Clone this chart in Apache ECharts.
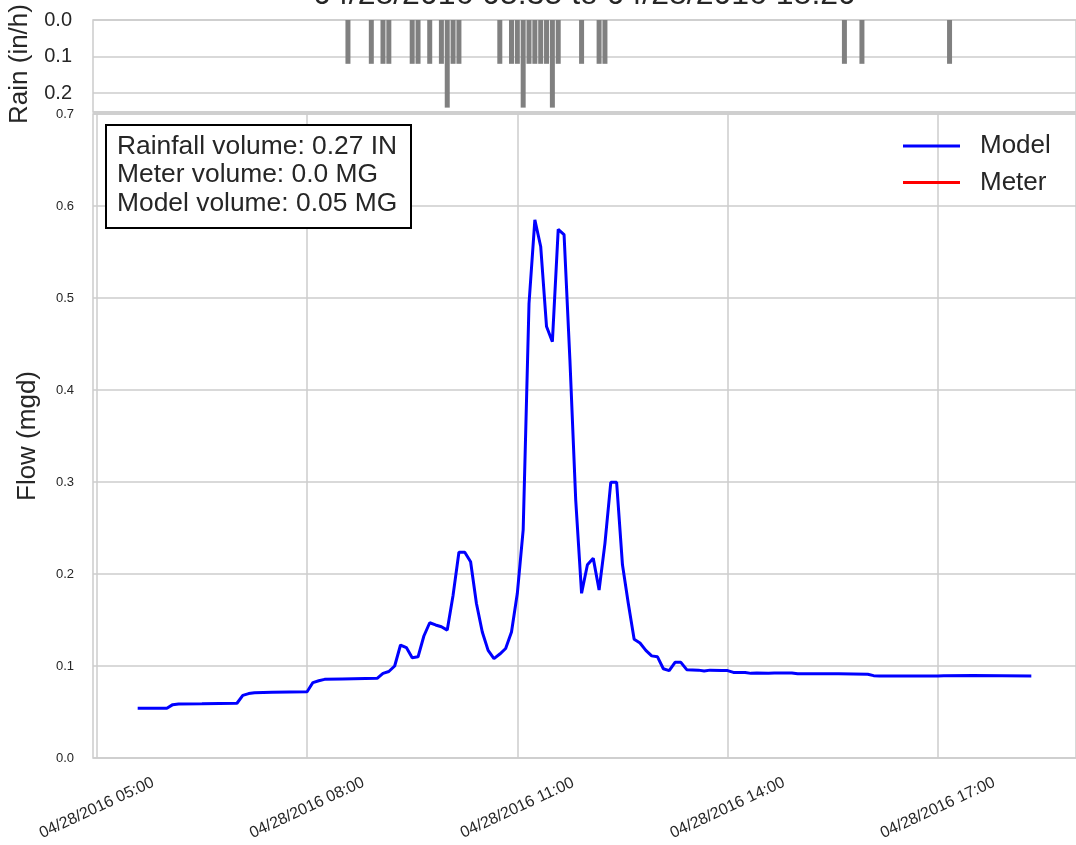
<!DOCTYPE html>
<html><head><meta charset="utf-8">
<script src="https://cdn.jsdelivr.net/npm/echarts@6/dist/echarts.min.js"></script>
<style>html,body{margin:0;padding:0;background:#fff}#c{width:1076px;height:845px}</style>
</head><body><div id="c"></div>
<script>
const titleText = '04/28/2016 05:35 to 04/28/2016 18:20';
const datePrefix = '04/28/2016';
const xTickTimes = ['05:00', '08:00', '11:00', '14:00', '17:00'];
const boxLines = ['Rainfall volume: 0.27 IN', 'Meter volume: 0.0 MG', 'Model volume: 0.05 MG'];

// Model flow (mgd), read at the visible vertices of the line
const flowTimes = [
  '05:35','06:00','06:05','06:10','06:30','07:00','07:05','07:10','07:15','07:30',
  '08:00','08:05','08:10','08:15','08:30','09:00','09:05','09:10','09:15','09:20',
  '09:25','09:30','09:35','09:40','09:45','09:50','09:55','10:00','10:05','10:10',
  '10:15','10:20','10:25','10:30','10:35','10:40','10:45','10:50','10:55','11:00',
  '11:05','11:10','11:15','11:20','11:25','11:30','11:35','11:40','11:45','11:50',
  '11:55','12:00','12:05','12:10','12:15','12:20','12:25','12:30','12:35','12:40',
  '12:45','12:50','12:55','13:00','13:05','13:10','13:15','13:20','13:25','13:35',
  '13:40','13:45','13:55','14:00','14:05','14:15','14:20','14:25','14:35','14:40',
  '14:55','15:00','15:35','16:00','16:05','16:10','17:00','17:05','17:30','18:20'
];
const modelFlow = [
  0.054,0.054,0.058,0.0588,0.059,0.0595,0.068,0.070,0.071,0.0715,
  0.072,0.082,0.084,0.0855,0.086,0.0866,0.092,0.094,0.100,0.1228,
  0.120,0.109,0.110,0.1326,0.147,0.1446,0.1427,0.139,0.177,0.2236,
  0.2236,0.2134,0.168,0.137,0.117,0.108,0.113,0.119,0.137,0.179,
  0.248,0.494,0.585,0.556,0.469,0.4525,0.5746,0.569,0.433,0.280,
  0.179,0.210,0.217,0.1826,0.2333,0.2996,0.2996,0.210,0.168,0.129,
  0.125,0.117,0.111,0.110,0.097,0.095,0.104,0.104,0.096,0.0955,
  0.0945,0.0955,0.0952,0.095,0.093,0.093,0.092,0.0925,0.092,0.0925,
  0.0925,0.0915,0.0915,0.091,0.0895,0.089,0.089,0.0895,0.0897,0.089
];
const meterTimes = [];
const meterFlow = [];

// Rain intensity (in/h)
const rainTimes = [
  '08:35','08:55','09:05','09:10','09:30','09:35','09:45','09:55','10:00','10:05',
  '10:10','10:45','10:55','11:00','11:05','11:10','11:15','11:20','11:25','11:30',
  '11:35','11:55','12:10','12:15','15:40','15:55','17:10'
];
const rainRates = [
  0.12,0.12,0.12,0.12,0.12,0.12,0.12,0.12,0.24,0.12,
  0.12,0.12,0.12,0.12,0.24,0.12,0.12,0.12,0.12,0.24,
  0.12,0.12,0.12,0.12,0.12,0.12,0.12
];

function toMin(t) { const p = t.split(':').map(Number); return p[0] * 60 + p[1]; }
function fmtMin(v) {
  const h = Math.floor(v / 60), m = Math.round(v % 60);
  return datePrefix + ' ' + String(h).padStart(2, '0') + ':' + String(m).padStart(2, '0');
}
const t0 = toMin(flowTimes[0]), t1 = toMin(flowTimes[flowTimes.length - 1]);
const xMin = t0 - 0.05 * (t1 - t0), xMax = t1 + 0.05 * (t1 - t0);
const xTicks = xTickTimes.map(toMin);

const FONT = 'Liberation Sans, Arial, sans-serif';
const TXT = '#262626';
const GRIDC = '#cccccc';

const chart = echarts.init(document.getElementById('c'), null, { renderer: 'canvas' });
chart.setOption({
  animation: false,
  backgroundColor: '#ffffff',
  textStyle: { fontFamily: FONT },
  grid: [
    { left: 93, right: 0, top: 114, bottom: 87, show: true, borderColor: GRIDC, borderWidth: 1.5, backgroundColor: 'transparent' },
    { left: 93, right: 0, top: 20, height: 92, show: true, borderColor: GRIDC, borderWidth: 1.5, backgroundColor: 'transparent' }
  ],
  xAxis: [
    {
      type: 'value', gridIndex: 0, min: xMin, max: xMax,
      axisLine: { show: false },
      axisTick: { show: false, customValues: xTicks },
      axisLabel: {
        customValues: xTicks, formatter: fmtMin, rotate: 25, align: 'center', verticalAlign: 'middle',
        margin: 50, fontSize: 16, color: TXT, fontFamily: FONT
      },
      splitLine: { show: true, lineStyle: { color: GRIDC, width: 1.5 } }
    },
    {
      type: 'value', gridIndex: 1, min: xMin, max: xMax,
      axisLine: { show: false }, axisTick: { show: false }, axisLabel: { show: false },
      splitLine: { show: false }
    }
  ],
  yAxis: [
    {
      type: 'value', gridIndex: 0, min: 0, max: 0.7, interval: 0.1,
      axisLine: { show: false }, axisTick: { show: false },
      axisLabel: { formatter: v => v.toFixed(1), fontSize: 13, color: TXT, margin: 19, fontFamily: FONT },
      splitLine: { show: true, lineStyle: { color: GRIDC, width: 1.5 } }
    },
    {
      type: 'value', gridIndex: 1, min: 0, max: 0.252, interval: 0.1, inverse: true,
      axisLine: { show: false }, axisTick: { show: false },
      axisLabel: { formatter: v => v.toFixed(1), fontSize: 20, color: TXT, margin: 21, fontFamily: FONT, showMaxLabel: false },
      splitLine: { show: true, lineStyle: { color: GRIDC, width: 1.5 } }
    }
  ],
  legend: {
    orient: 'vertical', left: 903, top: 133, padding: 0, itemWidth: 57, itemHeight: 3, itemGap: 10.5,
    icon: 'rect',
    data: ['Model', 'Meter'],
    textStyle: { fontSize: 26, color: TXT, fontFamily: FONT, padding: [0, 0, 0, 15] }
  },
  series: [
    {
      name: 'Model', type: 'line', xAxisIndex: 0, yAxisIndex: 0, symbol: 'none',
      lineStyle: { color: '#0000ff', width: 3 }, itemStyle: { color: '#0000ff' },
      data: flowTimes.map((t, i) => [toMin(t), modelFlow[i]])
    },
    {
      name: 'Meter', type: 'line', xAxisIndex: 0, yAxisIndex: 0, symbol: 'none',
      lineStyle: { color: '#ff0000', width: 3 }, itemStyle: { color: '#ff0000' },
      data: meterTimes.map((t, i) => [toMin(t), meterFlow[i]])
    },
    {
      name: 'Rain', type: 'bar', xAxisIndex: 1, yAxisIndex: 1, barWidth: 5,
      itemStyle: { color: '#808080' },
      data: rainTimes.map((t, i) => [toMin(t), rainRates[i]])
    }
  ],
  graphic: [
    { type: 'text', x: 584.5, y: -5, style: { text: titleText, font: '32px ' + FONT, fill: TXT, textAlign: 'center', textVerticalAlign: 'middle' } },
    { type: 'text', x: 20, y: 64, rotation: Math.PI / 2, style: { text: 'Rain (in/h)', font: '26px ' + FONT, fill: TXT, textAlign: 'center', textVerticalAlign: 'middle' } },
    { type: 'text', x: 28, y: 436, rotation: Math.PI / 2, style: { text: 'Flow (mgd)', font: '26px ' + FONT, fill: TXT, textAlign: 'center', textVerticalAlign: 'middle' } },
    { type: 'rect', shape: { x: 106, y: 125, width: 305, height: 103 }, style: { fill: '#ffffff', stroke: '#000000', lineWidth: 2 }, z: 100 },
    { type: 'text', x: 117, y: 132, z: 101, style: { text: boxLines.join('\n'), font: '26.4px ' + FONT, lineHeight: 28.7, fill: TXT, textAlign: 'left', textVerticalAlign: 'top' } }
  ]
});
</script>
</body></html>
